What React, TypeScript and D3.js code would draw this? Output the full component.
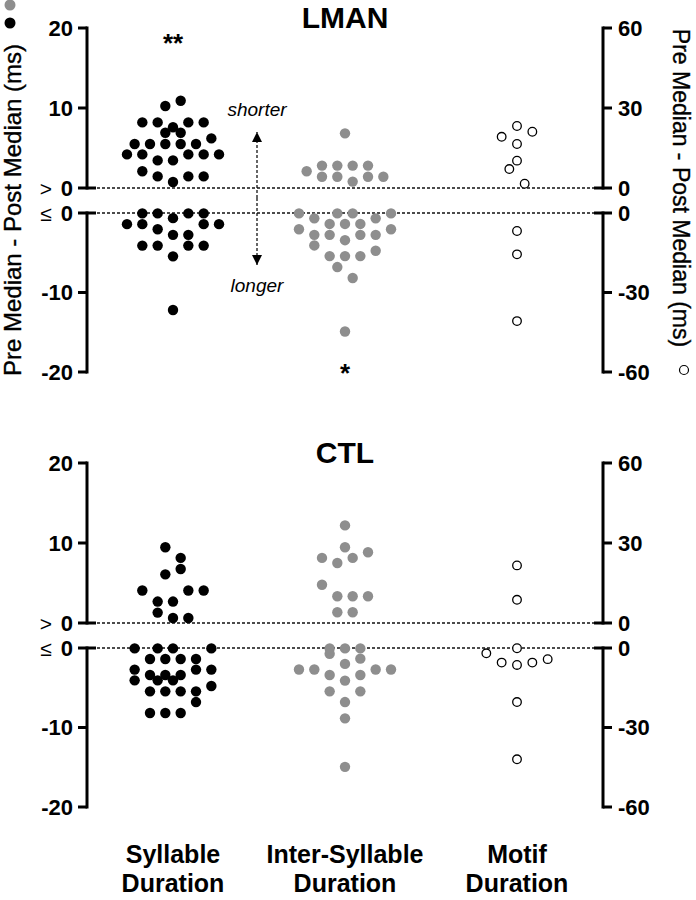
import React from "react";
import * as d3 from "d3";

// ---------- data (value, lane) ; lane = half-step column used by the scatter layout ----------
const categories = ["Syllable Duration", "Inter-Syllable Duration", "Motif Duration"];
const categoryLines = [["Syllable", "Duration"], ["Inter-Syllable", "Duration"], ["Motif", "Duration"]];
const panelTitles = ["LMAN", "CTL"];
const leftTicksUpper = [20, 10, 0];
const leftTicksLower = [0, -10, -20];
const rightTicksUpper = [60, 30, 0];
const rightTicksLower = [0, -30, -60];
const yLabel = "Pre Median - Post Median (ms)";

type Pt = [number, number];

const lmanSyllable: Pt[] = [
  [10.9, 1], [10.25, -1],
  [8.2, -4], [8.2, -2], [8.2, 2], [8.2, 4],
  [7.6, 0],
  [6.9, -1], [6.9, 1],
  [6.2, 5],
  [5.5, -5], [5.5, -3], [5.5, -1], [5.5, 1], [5.5, 3],
  [4.2, -6], [4.2, -4], [4.2, 2], [4.2, 4], [4.2, 6],
  [3.45, -2], [3.45, 0],
  [2.1, -4],
  [1.45, -2], [1.45, 2], [1.45, 4],
  [0.75, 0],
  [-0.05, -4], [-0.05, -2], [-0.05, 2], [-0.05, 4],
  [-0.65, 0],
  [-1.4, -6], [-1.4, -4], [-1.4, 4], [-1.4, 6],
  [-2.05, -2],
  [-2.75, 0], [-2.75, 2],
  [-4.1, -4], [-4.1, -2], [-4.1, 2], [-4.1, 4],
  [-5.45, 0],
  [-12.2, 0],
];

const lmanInter: Pt[] = [
  [6.83, 0],
  [2.8, -3], [2.8, -1], [2.8, 1], [2.8, 3],
  [2.1, -5],
  [1.4, -3], [1.4, -1], [1.4, 3], [1.4, 5],
  [0.8, 1],
  [-0.05, -6], [-0.05, -1], [-0.05, 1], [-0.05, 6],
  [-0.67, -4], [-0.67, 4],
  [-1.375, -2], [-1.375, 0], [-1.375, 2],
  [-2.04, -6], [-2.04, 6],
  [-2.75, -4], [-2.75, -2], [-2.75, 2], [-2.75, 4],
  [-3.42, 0],
  [-4.08, -4],
  [-4.75, 4],
  [-5.42, -2], [-5.42, 0], [-5.42, 2],
  [-6.8, -1],
  [-8.17, 1],
  [-14.9, 0],
];

const lmanMotif: Pt[] = [
  [23.25, 0], [21.1, 2], [19.2, -2], [16.5, 0], [10.25, 0], [7.1, -1], [1.6, 1],
  [-6.8, 0], [-15.6, 0], [-40.8, 0],
];

const ctlSyllable: Pt[] = [
  [9.47, -1], [8.14, 1], [6.75, 1], [6.08, -1],
  [4.06, -4], [4.06, 2], [4.06, 4],
  [2.68, -2], [2.68, 0],
  [1.3, -2],
  [0.63, 0], [0.63, 2],
  [-0.05, -5], [-0.05, -2], [-0.05, 0], [-0.05, 5],
  [-1.38, -3], [-1.38, -1], [-1.38, 1], [-1.38, 3],
  [-2.72, -5], [-2.72, 3], [-2.72, 5],
  [-3.4, -3], [-3.4, -1], [-3.4, 1],
  [-4.07, -5], [-4.07, -2], [-4.07, 0],
  [-4.78, 5],
  [-5.45, -3], [-5.45, -1], [-5.45, 1], [-5.45, 3],
  [-6.8, 3],
  [-8.18, -3], [-8.18, -1], [-8.18, 1],
];

const ctlInter: Pt[] = [
  [12.2, 0], [9.47, 0], [8.84, 3], [8.14, -3], [8.14, 1], [7.5, -1],
  [4.78, -3],
  [3.35, -1], [3.35, 1], [3.35, 3],
  [1.34, -1], [1.34, 1],
  [-0.05, -2], [-0.05, 0], [-0.05, 2],
  [-0.72, -2],
  [-1.34, 2],
  [-2.0, 0],
  [-2.7, -6], [-2.7, -4], [-2.7, 4], [-2.7, 6],
  [-3.4, -2], [-3.4, 2],
  [-4.1, 0],
  [-5.45, -2], [-5.45, 2],
  [-6.8, 0],
  [-8.85, 0],
  [-14.95, 0],
];

const ctlMotif: Pt[] = [
  [21.6, 0], [8.7, 0], [-0.1, 0], [-2.0, -4], [-4.2, 4], [-5.5, -2], [-5.5, 2], [-6.4, 0],
  [-20.4, 0], [-42, 0],
];

const panelData = [
  [lmanSyllable, lmanInter, lmanMotif],
  [ctlSyllable, ctlInter, ctlMotif],
];

// ---------- layout ----------
const W = 696;
const H = 900;
const FONT = "'Liberation Sans', Arial, Helvetica, sans-serif";
const leftX = 87;
const rightX = 603;
const panelTops = [28, 463];
const GRAY = "#8e8e8e";

const xCat = d3.scalePoint<string>().domain(categories).range([173, 517]);
const xLane = d3.scaleLinear().domain([-1, 1]).range([-7.67, 7.67]);

function Panel({ idx }: { idx: number }) {
  const top = panelTops[idx];
  const yUpL = d3.scaleLinear().domain([0, 20]).range([top + 160, top]);
  const yDnL = d3.scaleLinear().domain([-20, 0]).range([top + 344, top + 185]);
  const yUpR = d3.scaleLinear().domain([0, 60]).range([top + 160, top]);
  const yDnR = d3.scaleLinear().domain([-60, 0]).range([top + 344, top + 185]);
  const yL = (v: number) => (v > 0 ? yUpL(v) : yDnL(v));
  const yR = (v: number) => (v > 0 ? yUpR(v) : yDnR(v));
  const [syl, inter, motif] = panelData[idx];
  const tickLen = 9;
  const tickFont = 22;

  const leftAxis = (scale: d3.ScaleLinear<number, number>, ticks: number[], key: string) => (
    <g key={key}>
      <line x1={leftX} x2={leftX} y1={scale(ticks[0])} y2={scale(ticks[ticks.length - 1])} stroke="#000" strokeWidth={3} strokeLinecap="square" />
      {ticks.map((t) => (
        <g key={t}>
          <line x1={leftX - tickLen} x2={t === 0 ? leftX + tickLen : leftX} y1={scale(t)} y2={scale(t)} stroke="#000" strokeWidth={3} />
          <text x={73} y={scale(t)} dy="0.36em" textAnchor="end" fontFamily={FONT} fontWeight="bold" fontSize={tickFont}>
            {t}
          </text>
        </g>
      ))}
    </g>
  );
  const rightAxis = (scale: d3.ScaleLinear<number, number>, ticks: number[], key: string) => (
    <g key={key}>
      <line x1={rightX} x2={rightX} y1={scale(ticks[0])} y2={scale(ticks[ticks.length - 1])} stroke="#000" strokeWidth={3} strokeLinecap="square" />
      {ticks.map((t) => (
        <g key={t}>
          <line x1={t === 0 ? rightX - tickLen : rightX} x2={rightX + tickLen} y1={scale(t)} y2={scale(t)} stroke="#000" strokeWidth={3} />
          <text x={618} y={scale(t)} dy="0.36em" textAnchor="start" fontFamily={FONT} fontWeight="bold" fontSize={tickFont}>
            {t}
          </text>
        </g>
      ))}
    </g>
  );

  return (
    <g>
      {[yUpL(0), yDnL(0)].map((y, i) => (
        <line key={i} x1={leftX} x2={rightX} y1={y} y2={y} stroke="#111" strokeWidth={1.3} strokeDasharray="3,2" />
      ))}
      {leftAxis(yUpL, leftTicksUpper, "lu")}
      {leftAxis(yDnL, leftTicksLower, "ld")}
      {rightAxis(yUpR, rightTicksUpper, "ru")}
      {rightAxis(yDnR, rightTicksLower, "rd")}
      <text x={46} y={yUpL(0)} dy="0.36em" textAnchor="middle" fontFamily={FONT} fontSize={21}>&gt;</text>
      <text x={46} y={yDnL(0)} dy="0.36em" textAnchor="middle" fontFamily={FONT} fontSize={21}>≤</text>

      <text x={345} y={top} textAnchor="middle" fontFamily={FONT} fontWeight="bold" fontSize={30}>
        {panelTitles[idx]}
      </text>

      {syl.map(([v, lane], i) => (
        <circle key={"s" + i} cx={(xCat(categories[0]) as number) + xLane(lane)} cy={yL(v)} r={5.2} fill="#000" />
      ))}
      {inter.map(([v, lane], i) => (
        <circle key={"i" + i} cx={(xCat(categories[1]) as number) + xLane(lane)} cy={yL(v)} r={5.2} fill={GRAY} />
      ))}
      {motif.map(([v, lane], i) => (
        <circle key={"m" + i} cx={(xCat(categories[2]) as number) + xLane(lane)} cy={yR(v)} r={4.3} fill="#fff" stroke="#000" strokeWidth={1.3} />
      ))}
    </g>
  );
}

export default function App() {
  const top = panelTops[0];
  return (
    <svg width={W} height={H} viewBox={`0 0 ${W} ${H}`} style={{ position: "absolute", left: 0, top: 0, display: "block", background: "#fff" }}>
      <rect x={0} y={0} width={W} height={H} fill="#fff" />
      <defs>
        <marker id="ah" viewBox="0 0 10 10" refX={10} refY={5} markerWidth={10} markerHeight={11} markerUnits="userSpaceOnUse" orient="auto">
          <path d="M0,0 L10,5 L0,10 Z" fill="#000" />
        </marker>
      </defs>
      <Panel idx={0} />
      <Panel idx={1} />

      <text x={xCat(categories[0])} y={top + 24} textAnchor="middle" fontFamily={FONT} fontWeight="bold" fontSize={26}>**</text>
      <text x={xCat(categories[1])} y={top + 354} textAnchor="middle" fontFamily={FONT} fontWeight="bold" fontSize={26}>*</text>

      <line x1={257} x2={257} y1={198} y2={132} stroke="#000" strokeWidth={1.2} strokeDasharray="3,2" markerEnd="url(#ah)" />
      <line x1={257} x2={257} y1={198} y2={265} stroke="#000" strokeWidth={1.2} strokeDasharray="3,2" markerEnd="url(#ah)" />
      <text x={257} y={116} textAnchor="middle" fontFamily={FONT} fontStyle="italic" fontSize={19}>shorter</text>
      <text x={257} y={292} textAnchor="middle" fontFamily={FONT} fontStyle="italic" fontSize={19}>longer</text>

      <text transform={`translate(21,210) rotate(-90)`} textAnchor="middle" fontFamily={FONT} fontSize={24} stroke="#000" strokeWidth={0.35}>{yLabel}</text>
      <circle cx={10} cy={23} r={5.5} fill="#000" />
      <circle cx={10} cy={5} r={5.5} fill={GRAY} />
      <text transform={`translate(673,188) rotate(90)`} textAnchor="middle" fontFamily={FONT} fontSize={23} stroke="#000" strokeWidth={0.35}>{yLabel}</text>
      <circle cx={684} cy={370} r={4.5} fill="#fff" stroke="#000" strokeWidth={1.2} />

      {categories.map((c, i) => (
        <text key={c} x={xCat(c)} textAnchor="middle" fontFamily={FONT} fontWeight="bold" fontSize={25}>
          <tspan x={xCat(c)} y={863}>{categoryLines[i][0]}</tspan>
          <tspan x={xCat(c)} y={892}>{categoryLines[i][1]}</tspan>
        </text>
      ))}
    </svg>
  );
}
